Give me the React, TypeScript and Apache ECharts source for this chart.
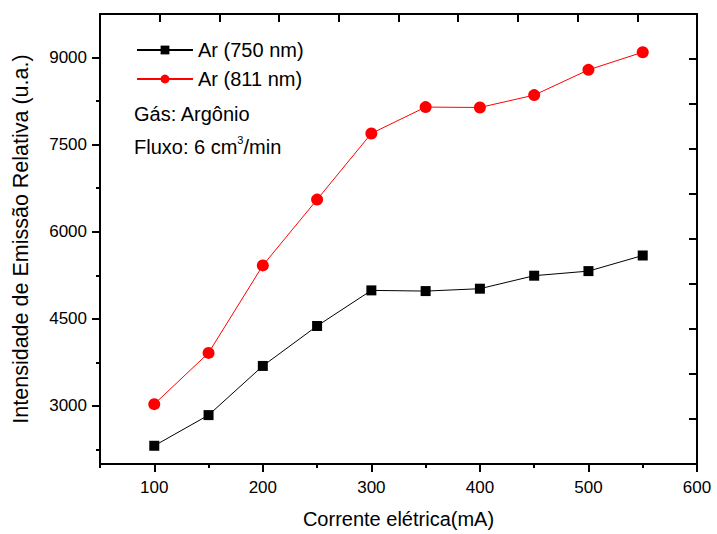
import React, { useEffect, useRef } from "react";
import * as echarts from "echarts";

const corrente = [100, 150, 200, 250, 300, 350, 400, 450, 500, 550];
const ar750 = [2314, 2842, 3689, 4377, 4990, 4978, 5019, 5243, 5322, 5591];
const ar811 = [3031, 3913, 5420, 6554, 7693, 8147, 8140, 8353, 8788, 9092];
const xMajor = [100, 200, 300, 400, 500, 600];
const xMinor = [50, 150, 250, 350, 450, 550];
const yMajor = [3000, 4500, 6000, 7500, 9000];
const yMinor = [2250, 3750, 5250, 6750, 8250];
const xTop = [50, 105, 160, 215, 270, 325, 380, 435, 490, 545, 600];
const yRight = [2000, 2775, 3550, 4325, 5100, 5875, 6650, 7425, 8200, 8975, 9750];

const FONT = "Liberation Sans, Arial, sans-serif";

export default function App() {
  const ref = useRef<HTMLDivElement>(null);
  useEffect(() => {
    if (!ref.current) return;
    const chart = echarts.init(ref.current, undefined, { renderer: "svg" });
    const axisLine = { show: true, lineStyle: { color: "#000", width: 2 } };
    const xBase = { type: "value", min: 50, max: 600, splitLine: { show: false } } as any;
    const yBase = { type: "value", min: 2000, max: 9750, splitLine: { show: false } } as any;
    const plain = (v: number) => String(v);
    chart.setOption({
      animation: false,
      backgroundColor: "#fff",
      textStyle: { fontFamily: FONT },
      grid: { left: 100, top: 14, right: 20, bottom: 62 },
      xAxis: [
        {
          ...xBase,
          position: "bottom",
          axisLine,
          axisTick: { show: true, customValues: xMajor, length: 8, lineStyle: { color: "#000", width: 2 } },
          axisLabel: { customValues: xMajor, formatter: plain, fontSize: 17, color: "#000", margin: 15, fontFamily: FONT },
          name: "Corrente elétrica(mA)",
          nameLocation: "middle",
          nameGap: 45,
          nameTextStyle: { fontSize: 20, color: "#000", fontFamily: FONT },
        },
        {
          ...xBase,
          position: "bottom",
          axisLine: { show: false },
          axisTick: { show: true, customValues: xMinor, length: 4, lineStyle: { color: "#000", width: 2 } },
          axisLabel: { show: false },
        },
        {
          ...xBase,
          position: "top",
          axisLine,
          axisTick: { show: true, inside: true, customValues: xTop, length: 8, lineStyle: { color: "#000", width: 2 } },
          axisLabel: { show: false },
        },
      ],
      yAxis: [
        {
          ...yBase,
          position: "left",
          axisLine,
          axisTick: { show: true, customValues: yMajor, length: 8, lineStyle: { color: "#000", width: 2 } },
          axisLabel: { customValues: yMajor, formatter: plain, fontSize: 17, color: "#000", margin: 13, fontFamily: FONT },
          name: "Intensidade de Emissão Relativa (u.a.)",
          nameLocation: "middle",
          nameGap: 68,
          nameTextStyle: { fontSize: 21.5, color: "#000", fontFamily: FONT },
        },
        {
          ...yBase,
          position: "left",
          axisLine: { show: false },
          axisTick: { show: true, customValues: yMinor, length: 4, lineStyle: { color: "#000", width: 2 } },
          axisLabel: { show: false },
        },
        {
          ...yBase,
          position: "right",
          axisLine,
          axisTick: { show: true, inside: true, customValues: yRight, length: 8, lineStyle: { color: "#000", width: 2 } },
          axisLabel: { show: false },
        },
      ],
      legend: {
        orient: "vertical",
        left: 131,
        top: 35,
        itemWidth: 56,
        itemHeight: 11,
        itemGap: 9,
        textStyle: { fontSize: 20, color: "#000", fontFamily: FONT },
        data: ["Ar (750 nm)", "Ar (811 nm)"],
      },
      graphic: [
        {
          type: "text",
          left: 134,
          top: 104,
          style: { text: "Gás: Argônio", fontSize: 20, fill: "#000", fontFamily: FONT },
        },
        {
          type: "text",
          left: 134,
          top: 134,
          style: {
            text: "Fluxo: 6 cm{sup|3}/min",
            fontSize: 20,
            fill: "#000",
            fontFamily: FONT,
            rich: {
              sup: { fontSize: 11, verticalAlign: "top", lineHeight: 25, fontFamily: FONT, fill: "#000" },
            },
          },
        },
      ],
      series: [
        {
          name: "Ar (750 nm)",
          type: "line",
          xAxisIndex: 0,
          yAxisIndex: 0,
          data: corrente.map((c, i) => [c, ar750[i]]),
          symbol: "rect",
          symbolSize: 10,
          itemStyle: { color: "#000" },
          lineStyle: { color: "#000", width: 1 },
        },
        {
          name: "Ar (811 nm)",
          type: "line",
          xAxisIndex: 0,
          yAxisIndex: 0,
          data: corrente.map((c, i) => [c, ar811[i]]),
          symbol: "circle",
          symbolSize: 12,
          itemStyle: { color: "#ff0000" },
          lineStyle: { color: "#ff0000", width: 1 },
        },
      ],
    });
    return () => chart.dispose();
  }, []);
  return <div ref={ref} style={{ width: 717, height: 534, position: "absolute", left: 0, top: 0 }} />;
}
